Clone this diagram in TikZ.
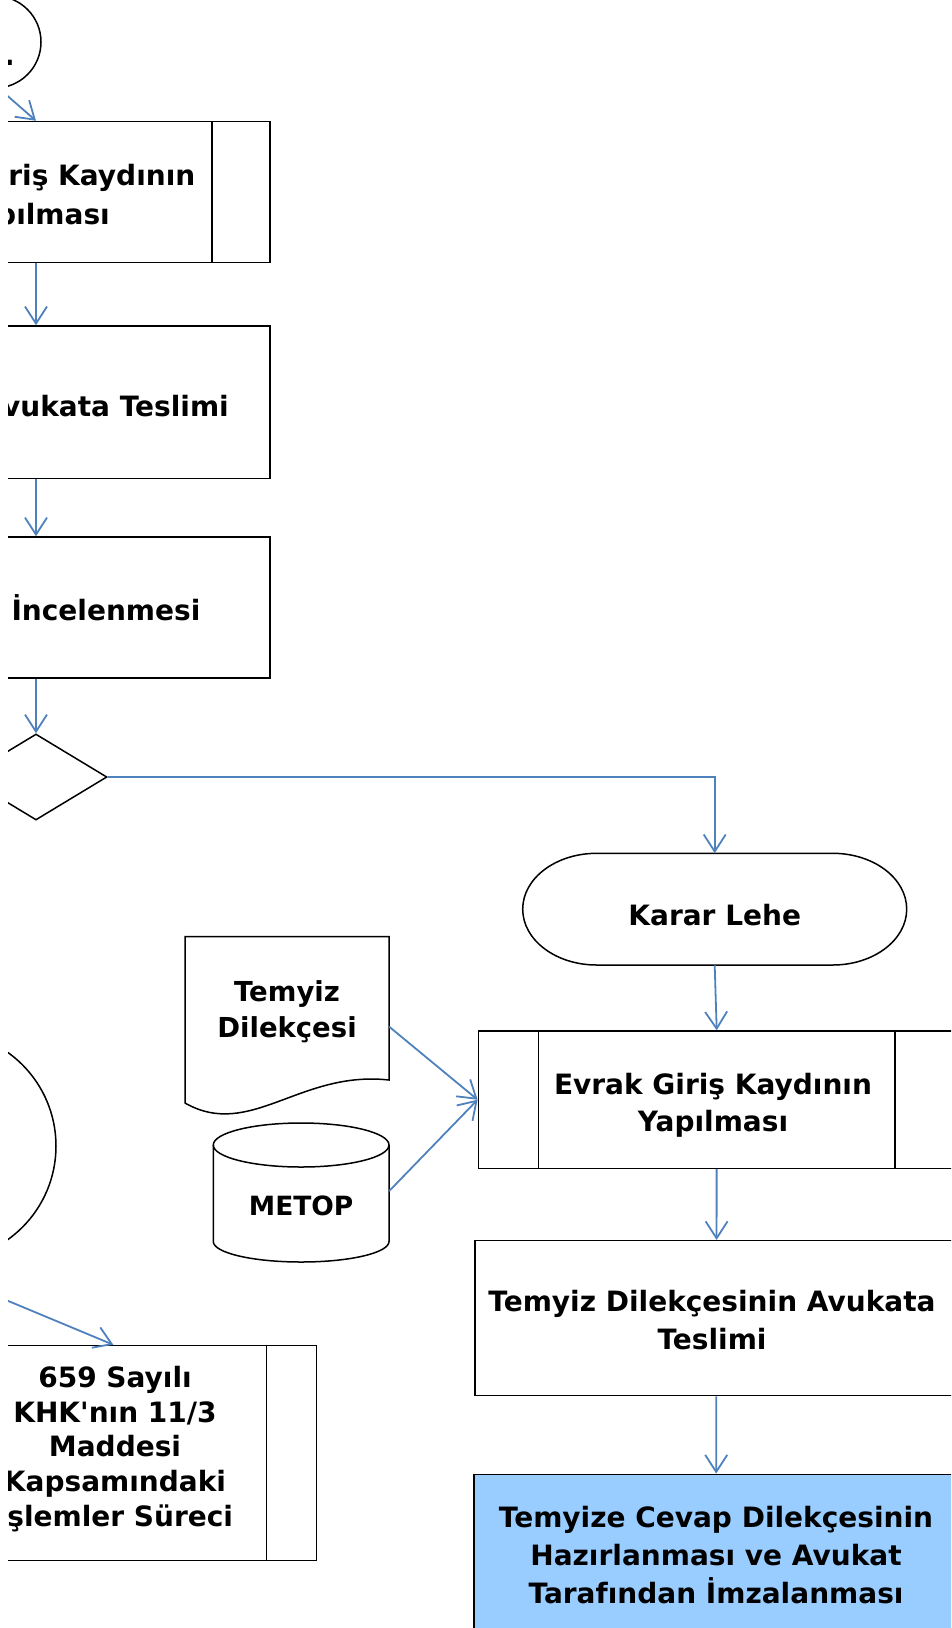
\documentclass[tikz,border=0pt]{standalone}
\usepackage{fontspec}
\setmainfont{DejaVu Sans}[Ligatures=TeXOff]
\usepackage{tikz}
\usetikzlibrary{arrows.meta, shapes.geometric}

\definecolor{flowblue}{HTML}{4F81BD}
\definecolor{lightblue}{HTML}{99CCFF}

\begin{document}
\begin{tikzpicture}[x=1pt, y=-1pt,
  box/.style={draw, line width=1.5pt, inner sep=0pt, minimum width=468,
    font=\bfseries\fontsize{28}{38}\selectfont},
  subproc/.style={box, path picture={
    \draw[line width=1.5pt]
      ([xshift=#1]path picture bounding box.north west) -- ([xshift=#1]path picture bounding box.south west)
      ([xshift=-#1]path picture bounding box.north east) -- ([xshift=-#1]path picture bounding box.south east);}},
  txt/.style={inner sep=0pt, font=\bfseries\fontsize{28}{38}\selectfont},
  outline/.style={line width=1.5pt},
  flowline/.style={draw=flowblue, line width=1.8pt, -{Straight Barb[length=17pt,width=22pt]}}]
\useasboundingbox (0,0) rectangle (951,1628);
\clip (8,0) rectangle (951,1628);

% left column
\node[draw, circle, outline, minimum size=92, inner sep=0pt] (c0) at (-5,42) {};
\node[txt, anchor=base west] (c0t) at (4,65) {.};
\node[subproc=58, minimum height=141] (b1) at (36,192) {};
\node[txt, anchor=base east] (b1a) at (195.5,185) {riş Kaydının};
\node[txt, anchor=base east] (b1b) at (110,224) {pılması};
\node[box, minimum height=152.5] (b2) at (36,402.2) {};
\node[txt, anchor=base east] (b2t) at (229,416) {vukata Teslimi};
\node[box, minimum height=141] (b3) at (36,607.5) {};
\node[txt, anchor=base east] (b3t) at (200.6,620) {İncelenmesi};
\node[draw, diamond, outline, minimum width=142, minimum height=86, inner sep=0pt] (d1) at (36,777) {};

% karar lehe
\node[txt, minimum width=384, minimum height=111.7, text height=33pt, text depth=0pt] (kl) at (714.7,909.2) {Karar Lehe};
\draw[outline] (596.7,853.3) -- (832.7,853.3)
  arc[start angle=-90, end angle=90, x radius=74, y radius=55.85]
  -- (596.7,965) arc[start angle=90, end angle=270, x radius=74, y radius=55.85] -- cycle;

% inputs
\node[txt, align=center, minimum width=204, font=\bfseries\fontsize{27.5}{36.7}\selectfont] (doc) at (287,1011.7) {Temyiz\\Dilekçesi};
\draw[outline] (389,1080) .. controls (300,1070) and (250,1140) .. (185,1103)
  -- (185,936.7) -- (389,936.7) -- cycle;
\node[txt, minimum width=175.7, font=\bfseries\fontsize{26.5}{32}\selectfont] (db) at (301.15,1206) {METOP};
\draw[outline] (213.3,1145) -- (213.3,1241.5)
  arc[start angle=180, end angle=0, x radius=87.85, y radius=20.5] -- (389,1145);
\draw[outline] (301.15,1145) ellipse[x radius=87.85, y radius=22];

% right column
\node[subproc=60, minimum width=476.7, minimum height=137.3] (eg) at (716.7,1099.7) {};
\node[txt, align=center, font=\bfseries\fontsize{28}{37}\selectfont] (egt) at (713,1105.5) {Evrak Giriş Kaydının\\Yapılması};
\node[box, minimum width=483, minimum height=155] (td) at (716.5,1318.2) {};
\node[txt, align=center] (tdt) at (712,1320.5) {Temyiz Dilekçesinin Avukata\\Teslimi};
\node[box, fill=lightblue, minimum width=484, minimum height=161.4, align=center] (tc) at (716,1555) {Temyize Cevap Dilekçesinin\\Hazırlanması ve Avukat\\Tarafından İmzalanması};

% lower left
\node[draw, circle, outline, minimum size=230, inner sep=0pt] (ov) at (-59,1146) {};
\coordinate (b4src) at (-60,1272.5);
\node[subproc=50, minimum width=406.7, minimum height=215] (b4) at (113.3,1453) {};
\node[txt, align=center, font=\bfseries\fontsize{28}{34.6}\selectfont] (b4t) at (115,1449) {659 Sayılı\\KHK'nın 11/3\\Maddesi\\Kapsamındaki\\İşlemler Süreci};

% connectors
\draw[flowline] (c0.-85) -- (b1.north);
\draw[flowline] (b1) -- (b2);
\draw[flowline] (b2) -- (b3);
\draw[flowline] (b3) -- (d1);
\draw[flowline] (d1.east) -| (kl.north);
\draw[flowline] (kl.south) -- (eg.north);
\draw[flowline] ([yshift=-15]doc.east) -- (eg.west);
\draw[flowline] ([yshift=15]db.east) -- (eg.west);
\draw[flowline] (eg) -- (td);
\draw[flowline] (td) -- (tc);
\draw[flowline] (b4src) -- (b4.north);
\end{tikzpicture}
\end{document}
